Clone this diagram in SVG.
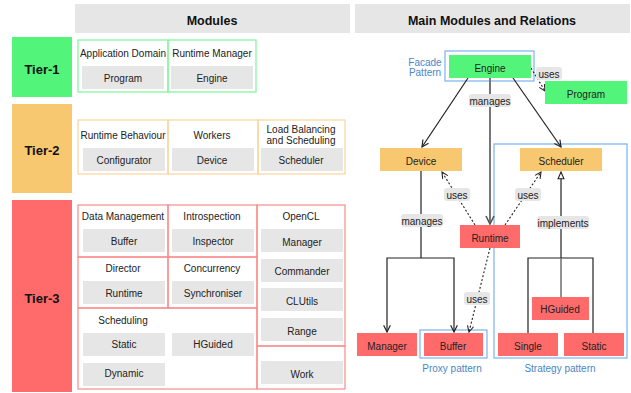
<svg xmlns="http://www.w3.org/2000/svg" width="631" height="393" viewBox="0 0 631 393">
<style>
text{font-family:"Liberation Sans",Arial,sans-serif;font-size:10px;fill:#222;text-anchor:middle;dominant-baseline:central}
.hdr{font-size:12.5px;font-weight:bold;fill:#111}
.tier{font-size:13px;font-weight:bold;fill:#111}
.grey{fill:#e6e6e6}
.g1{fill:none;stroke:#7df59a;stroke-width:1.2}
.g2{fill:none;stroke:#fad49a;stroke-width:1.2}
.g3{fill:none;stroke:#f88c8c;stroke-width:1.2}
.green{fill:#52f57a}
.orange{fill:#f8c870}
.red{fill:#ff6b6b}
.blue{fill:none;stroke:#7ab2ee;stroke-width:1.2}
.bt{fill:#4a86c8}
.ln{fill:none;stroke:#222;stroke-width:1.2}
.dot{fill:none;stroke:#222;stroke-width:1.1;stroke-dasharray:2,2}
.gl{fill:none;stroke:#777;stroke-width:2}
.lbl{fill:#e6e6e6}
</style>
<defs>
<marker id="arr" viewBox="0 0 10 10" refX="9" refY="5" markerWidth="7" markerHeight="7" orient="auto-start-reverse">
<path d="M1,1 L9,5 L1,9" fill="none" stroke="#222" stroke-width="1.4"/>
</marker>
<marker id="arrg" viewBox="0 0 10 10" refX="9" refY="5" markerWidth="5" markerHeight="5" orient="auto">
<path d="M1,1 L9,5 L1,9" fill="none" stroke="#555" stroke-width="1.6"/>
</marker>
<marker id="tri" viewBox="0 0 10 10" refX="9" refY="5" markerWidth="7" markerHeight="7" orient="auto">
<path d="M1,1.5 L9,5 L1,8.5 Z" fill="#fff" stroke="#222" stroke-width="1.3"/>
</marker>
</defs>
<rect width="631" height="393" fill="#fff"/>

<!-- Headers -->
<g id="hdr-modules"><rect x="75" y="4" width="275" height="29" class="grey"/><text x="212" y="21" class="hdr">Modules</text></g>
<g id="hdr-relations"><rect x="355" y="4" width="275" height="29" class="grey"/><text x="492" y="21" class="hdr">Main Modules and Relations</text></g>

<!-- Tiers -->
<g id="tier1"><rect x="12" y="37" width="60" height="60" class="green"/><text x="42" y="69" class="tier">Tier-1</text></g>
<g id="tier2"><rect x="12" y="104" width="60" height="89" class="orange"/><text x="42" y="150" class="tier">Tier-2</text></g>
<g id="tier3"><rect x="12" y="200" width="60" height="192" class="red"/><text x="42" y="298" class="tier">Tier-3</text></g>

<!-- Tier-1 modules -->
<g id="t1-app"><rect x="78" y="40" width="90" height="52" class="g1"/><text x="123" y="53">Application Domain</text><rect x="82" y="66" width="82" height="23" class="grey"/><text x="123" y="78">Program</text></g>
<g id="t1-rm"><rect x="168" y="40" width="88" height="52" class="g1"/><text x="212" y="53">Runtime Manager</text><rect x="171" y="66" width="82" height="23" class="grey"/><text x="212" y="78">Engine</text></g>

<!-- Tier-2 modules -->
<g id="t2-rb"><rect x="78" y="120" width="90" height="54" class="g2"/><text x="123" y="135">Runtime Behaviour</text><rect x="83" y="148" width="82" height="23" class="grey"/><text x="124" y="160">Configurator</text></g>
<g id="t2-w"><rect x="168" y="120" width="90" height="54" class="g2"/><text x="212" y="135">Workers</text><rect x="172" y="148" width="82" height="23" class="grey"/><text x="212" y="160">Device</text></g>
<g id="t2-lb"><rect x="258" y="120" width="87" height="54" class="g2"/><text x="301" y="129">Load Balancing</text><text x="301" y="140">and Scheduling</text><rect x="261" y="148" width="82" height="23" class="grey"/><text x="301" y="160">Scheduler</text></g>

<!-- Tier-3 modules -->
<g id="t3-dm"><rect x="78" y="205" width="90" height="52" class="g3"/><text x="123" y="216">Data Management</text><rect x="83" y="229" width="82" height="23" class="grey"/><text x="124" y="241">Buffer</text></g>
<g id="t3-in"><rect x="168" y="205" width="89" height="52" class="g3"/><text x="212" y="216">Introspection</text><rect x="172" y="229" width="82" height="23" class="grey"/><text x="213" y="241">Inspector</text></g>
<g id="t3-di"><rect x="78" y="257" width="90" height="51" class="g3"/><text x="123" y="268">Director</text><rect x="83" y="281" width="82" height="23" class="grey"/><text x="124" y="293">Runtime</text></g>
<g id="t3-co"><rect x="168" y="257" width="89" height="51" class="g3"/><text x="212" y="268">Concurrency</text><rect x="172" y="281" width="82" height="23" class="grey"/><text x="213" y="293">Synchroniser</text></g>
<g id="t3-sc"><rect x="78" y="308" width="179" height="81" class="g3"/><text x="123" y="320">Scheduling</text><rect x="83" y="333" width="82" height="23" class="grey"/><text x="124" y="344">Static</text><rect x="172" y="333" width="82" height="23" class="grey"/><text x="213" y="344">HGuided</text><rect x="83" y="363" width="82" height="23" class="grey"/><text x="124" y="373">Dynamic</text></g>
<g id="t3-cl"><rect x="257" y="205" width="88" height="141" class="g3"/><text x="301" y="216">OpenCL</text><rect x="261" y="229" width="82" height="23" class="grey"/><text x="302" y="242">Manager</text><rect x="261" y="259" width="82" height="23" class="grey"/><text x="302" y="271">Commander</text><rect x="261" y="288" width="82" height="23" class="grey"/><text x="302" y="301">CLUtils</text><rect x="261" y="318" width="82" height="23" class="grey"/><text x="302" y="331">Range</text></g>
<g id="t3-wk"><rect x="257" y="346" width="88" height="43" class="g3"/><rect x="261" y="361" width="82" height="23" class="grey"/><text x="302" y="374">Work</text></g>

<!-- Pattern boxes -->
<g id="facade"><rect x="445" y="51" width="89" height="30" class="blue"/><text x="425" y="62" class="bt">Facade</text><text x="425" y="72" class="bt">Pattern</text></g>
<g id="strategy"><rect x="494" y="144" width="133" height="214" class="blue"/><text x="560" y="368" class="bt">Strategy pattern</text></g>
<g id="proxy"><rect x="420" y="330" width="67" height="28" class="blue"/><text x="452" y="368" class="bt">Proxy pattern</text></g>

<!-- Connectors -->
<g id="connectors">
<line x1="468" y1="78" x2="422" y2="147" class="ln" marker-end="url(#arr)"/>
<line x1="513" y1="78" x2="561" y2="147" class="ln" marker-end="url(#arr)"/>
<line x1="490" y1="78" x2="490" y2="224" class="gl" marker-end="url(#arrg)"/>
<line x1="531" y1="68" x2="545" y2="91" class="dot" marker-end="url(#arr)"/>
<polyline points="421,171 421,258" class="ln"/>
<polyline points="387,332 387,258 454,258 454,332" class="ln" marker-start="url(#arr)" marker-end="url(#arr)"/>
<line x1="475" y1="225" x2="442" y2="172" class="dot" marker-end="url(#arr)"/>
<line x1="505" y1="225" x2="541" y2="172" class="dot" marker-end="url(#arr)"/>
<line x1="490" y1="248" x2="469" y2="332" class="dot" marker-end="url(#arr)"/>
<line x1="561" y1="258" x2="561" y2="172" class="ln" marker-end="url(#tri)"/>
<polyline points="528,333 528,258 593,258 593,333" class="ln"/>
<line x1="561" y1="258" x2="561" y2="297" class="gl" style="stroke-width:1.6"/>
<rect x="536" y="67" width="26" height="13" rx="3" class="lbl"/><text x="549" y="74">uses</text>
<rect x="469" y="94" width="42" height="13" rx="3" class="lbl"/><text x="490" y="101">manages</text>
<rect x="401" y="214" width="42" height="13" rx="3" class="lbl"/><text x="422" y="221">manages</text>
<rect x="444" y="188" width="26" height="13" rx="3" class="lbl"/><text x="457" y="195">uses</text>
<rect x="515" y="188" width="26" height="13" rx="3" class="lbl"/><text x="528" y="195">uses</text>
<rect x="464" y="292" width="26" height="13" rx="3" class="lbl"/><text x="477" y="299">uses</text>
<rect x="537" y="216" width="52" height="13" rx="3" class="lbl"/><text x="563" y="223">implements</text>
</g>

<!-- Right nodes -->
<g id="n-engine"><rect x="449" y="55" width="82" height="23" class="green"/><text x="490" y="68">Engine</text></g>
<g id="n-program"><rect x="545" y="81" width="82" height="23" class="green"/><text x="586" y="94">Program</text></g>
<g id="n-device"><rect x="380" y="148" width="82" height="23" class="orange"/><text x="421" y="161">Device</text></g>
<g id="n-scheduler"><rect x="520" y="148" width="82" height="23" class="orange"/><text x="561" y="161">Scheduler</text></g>
<g id="n-runtime"><rect x="460" y="225" width="60" height="23" class="red"/><text x="490" y="238">Runtime</text></g>
<g id="n-hguided"><rect x="532" y="297" width="57" height="23" class="red"/><text x="560" y="309">HGuided</text></g>
<g id="n-manager"><rect x="357" y="333" width="60" height="23" class="red"/><text x="387" y="346">Manager</text></g>
<g id="n-buffer"><rect x="424" y="333" width="59" height="23" class="red"/><text x="453" y="346">Buffer</text></g>
<g id="n-single"><rect x="498" y="333" width="60" height="23" class="red"/><text x="528" y="346">Single</text></g>
<g id="n-static"><rect x="564" y="333" width="60" height="23" class="red"/><text x="594" y="346">Static</text></g>
</svg>
